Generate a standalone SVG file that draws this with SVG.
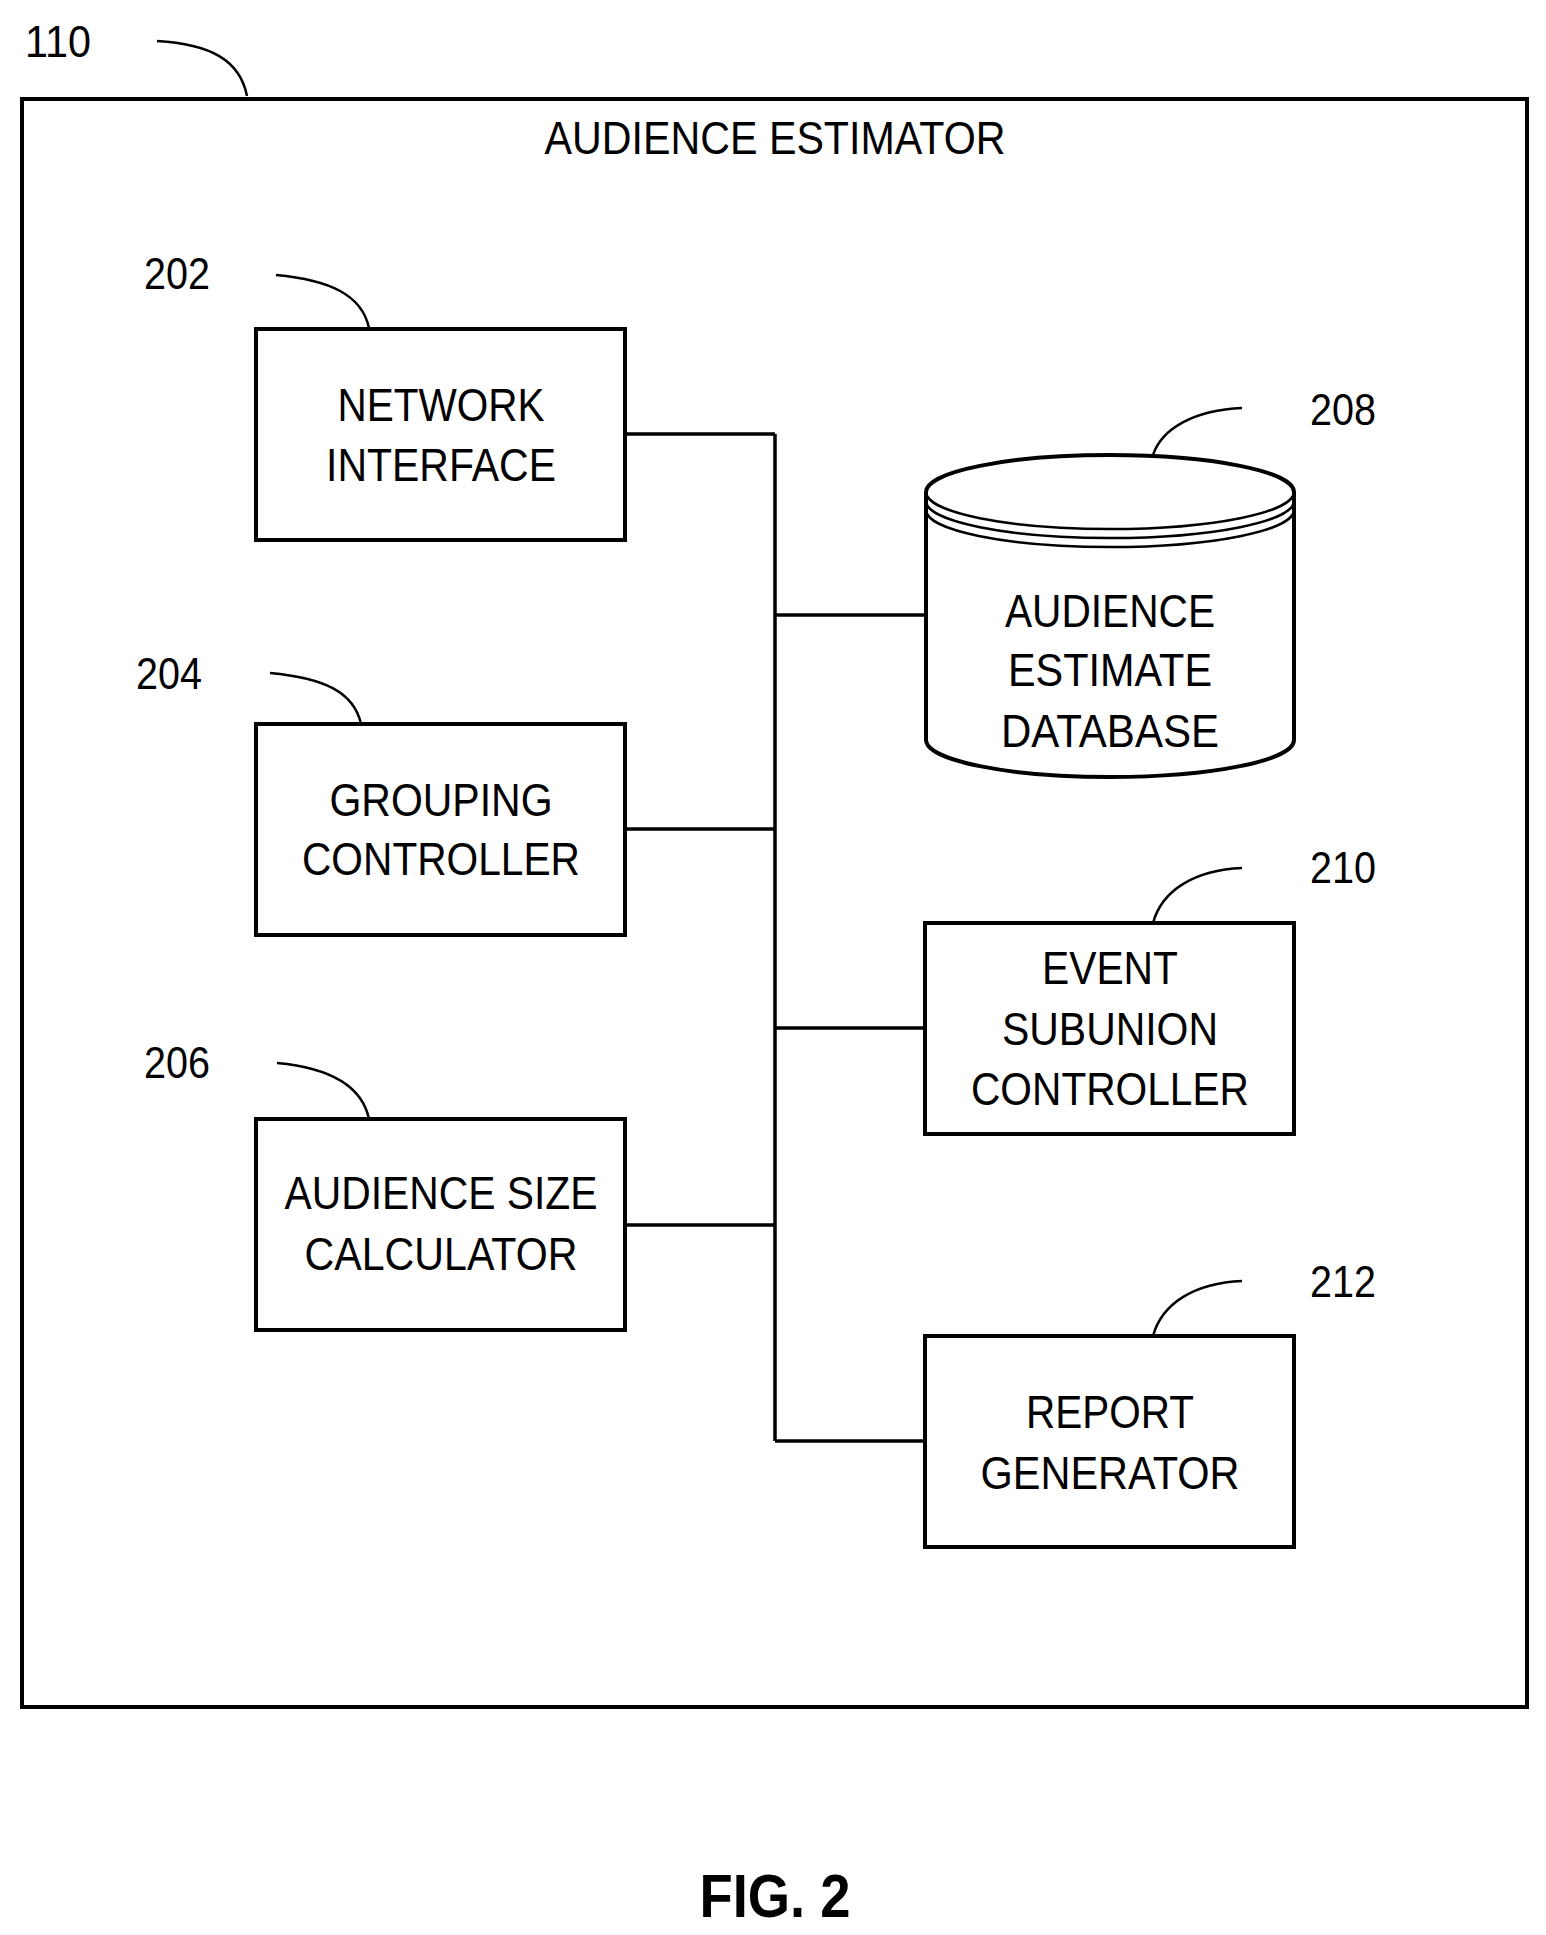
<svg xmlns="http://www.w3.org/2000/svg" width="1546" height="1935" viewBox="0 0 1546 1935">
<style>
.b{fill:#fff;stroke:#000;stroke-width:4}
.l{fill:none;stroke:#000;stroke-width:3.5}
.c{fill:none;stroke:#000;stroke-width:2.5}
text{font-family:"Liberation Sans",Arial,sans-serif;font-size:46px;text-anchor:middle;fill:#000}
.n{font-size:44px}
.f{font-weight:bold;font-size:62px}
</style>
<rect width="1546" height="1935" fill="#fff"/>
<g id="estimator">
<rect class="b" x="22" y="99" width="1505" height="1608"/>
<text x="775" y="154" textLength="461" lengthAdjust="spacingAndGlyphs">AUDIENCE ESTIMATOR</text>
<text class="n" x="58" y="57" textLength="66" lengthAdjust="spacingAndGlyphs">110</text>
<path class="c" d="M157 41 C210 44 240 60 247 96"/>
</g>
<g id="connectors">
<path class="l" d="M775 434 V1441 M625 434 H775 M775 615 H925 M625 829 H775 M775 1028 H925 M625 1225 H775 M775 1441 H925"/>
</g>
<g id="n202">
<rect class="b" x="256" y="329" width="369" height="211"/>
<text x="441" y="421" textLength="207" lengthAdjust="spacingAndGlyphs">NETWORK</text>
<text x="441" y="481" textLength="230" lengthAdjust="spacingAndGlyphs">INTERFACE</text>
<text class="n" x="177" y="289" textLength="66" lengthAdjust="spacingAndGlyphs">202</text>
<path class="c" d="M276 275 C330 280 362 295 369 328"/>
</g>
<g id="n204">
<rect class="b" x="256" y="724" width="369" height="211"/>
<text x="441" y="816" textLength="223" lengthAdjust="spacingAndGlyphs">GROUPING</text>
<text x="441" y="875" textLength="278" lengthAdjust="spacingAndGlyphs">CONTROLLER</text>
<text class="n" x="169" y="689" textLength="66" lengthAdjust="spacingAndGlyphs">204</text>
<path class="c" d="M270 673 C324 678 354 692 361 724"/>
</g>
<g id="n206">
<rect class="b" x="256" y="1119" width="369" height="211"/>
<text x="441" y="1209" textLength="313" lengthAdjust="spacingAndGlyphs">AUDIENCE SIZE</text>
<text x="441" y="1270" textLength="273" lengthAdjust="spacingAndGlyphs">CALCULATOR</text>
<text class="n" x="177" y="1078" textLength="66" lengthAdjust="spacingAndGlyphs">206</text>
<path class="c" d="M277 1063 C331 1068 362 1086 369 1119"/>
</g>
<g id="n208">
<path class="b" d="M926 492 V740 A184 37 0 0 0 1294 740 V492 A184 37 0 0 0 926 492 Z"/>
<path class="c" d="M926 492 A184 37 0 0 0 1294 492 M926 501 A184 37 0 0 0 1294 501 M926 510 A184 37 0 0 0 1294 510"/>
<text x="1110" y="627" textLength="210" lengthAdjust="spacingAndGlyphs">AUDIENCE</text>
<text x="1110" y="686" textLength="204" lengthAdjust="spacingAndGlyphs">ESTIMATE</text>
<text x="1110" y="747" textLength="218" lengthAdjust="spacingAndGlyphs">DATABASE</text>
<text class="n" x="1343" y="425" textLength="66" lengthAdjust="spacingAndGlyphs">208</text>
<path class="c" d="M1242 408 C1195 410 1162 428 1153 455"/>
</g>
<g id="n210">
<rect class="b" x="925" y="923" width="369" height="211"/>
<text x="1110" y="984" textLength="136" lengthAdjust="spacingAndGlyphs">EVENT</text>
<text x="1110" y="1045" textLength="216" lengthAdjust="spacingAndGlyphs">SUBUNION</text>
<text x="1110" y="1105" textLength="278" lengthAdjust="spacingAndGlyphs">CONTROLLER</text>
<text class="n" x="1343" y="883" textLength="66" lengthAdjust="spacingAndGlyphs">210</text>
<path class="c" d="M1242 868 C1195 870 1162 890 1153 923"/>
</g>
<g id="n212">
<rect class="b" x="925" y="1336" width="369" height="211"/>
<text x="1110" y="1428" textLength="168" lengthAdjust="spacingAndGlyphs">REPORT</text>
<text x="1110" y="1489" textLength="259" lengthAdjust="spacingAndGlyphs">GENERATOR</text>
<text class="n" x="1343" y="1297" textLength="66" lengthAdjust="spacingAndGlyphs">212</text>
<path class="c" d="M1242 1281 C1195 1283 1162 1303 1153 1336"/>
</g>
<text class="f" x="775" y="1917" textLength="151" lengthAdjust="spacingAndGlyphs">FIG. 2</text>
</svg>
